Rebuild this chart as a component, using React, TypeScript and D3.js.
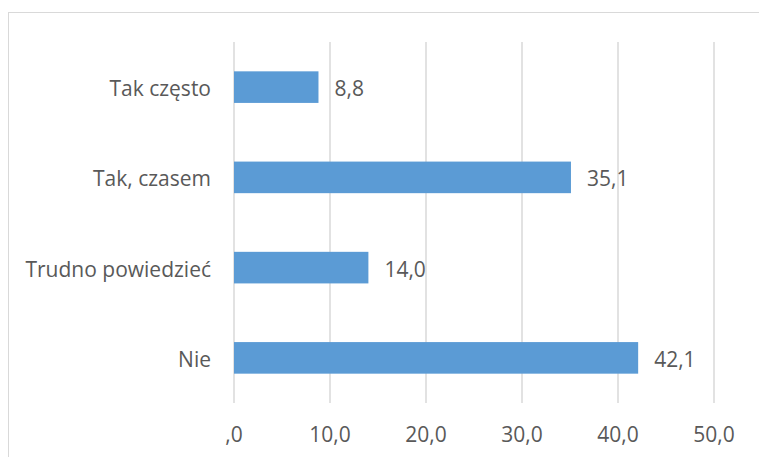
import React from "react";
import * as d3 from "d3";

const categories = ["Tak często", "Tak, czasem", "Trudno powiedzieć", "Nie"];
const values = [8.8, 35.1, 14.0, 42.1];
const ticks = [0, 10, 20, 30, 40, 50];

const W = 759;
const H = 457;
const FONT = "'Open Sans', sans-serif";
const TEXT = "#595959";
const GRID = "#D9D9D9";

const fmt = (v: number) => {
  const s = v.toFixed(1).replace(".", ",");
  return s.startsWith("0,") ? s.slice(1) : s;
};

export default function App() {
  const x = d3.scaleLinear().domain([0, 50]).range([234, 714]);
  const y = d3
    .scaleBand<string>()
    .domain(categories)
    .range([42, 403])
    .paddingInner(0.65)
    .paddingOuter(0.325);

  return (
    <svg
      width={W}
      height={H}
      style={{ position: "absolute", left: 0, top: 0, background: "#fff" }}
      fontFamily={FONT}
    >
      <rect x={8.5} y={12.5} width={760} height={460} fill="#fff" stroke={GRID} strokeWidth={1} />
      {ticks.map((t) => (
        <line key={"g" + t} x1={x(t)} x2={x(t)} y1={42} y2={403} stroke={GRID} strokeWidth={1.5} />
      ))}
      {categories.map((c, i) => {
        const yy = y(c)!;
        const bw = y.bandwidth();
        const cy = yy + bw / 2;
        return (
          <g key={c}>
            <rect x={x(0)} y={yy} width={x(values[i]) - x(0)} height={bw} fill="#5B9BD5" />
            <text x={211} y={cy + 9} textAnchor="end" fontSize={21} fill={TEXT}>
              {c}
            </text>
            <text x={x(values[i]) + 16} y={cy + 9} fontSize={21} fill={TEXT}>
              {fmt(values[i])}
            </text>
          </g>
        );
      })}
      {ticks.map((t) => (
        <text key={"t" + t} x={x(t)} y={442} textAnchor="middle" fontSize={21} fill={TEXT}>
          {fmt(t)}
        </text>
      ))}
    </svg>
  );
}
